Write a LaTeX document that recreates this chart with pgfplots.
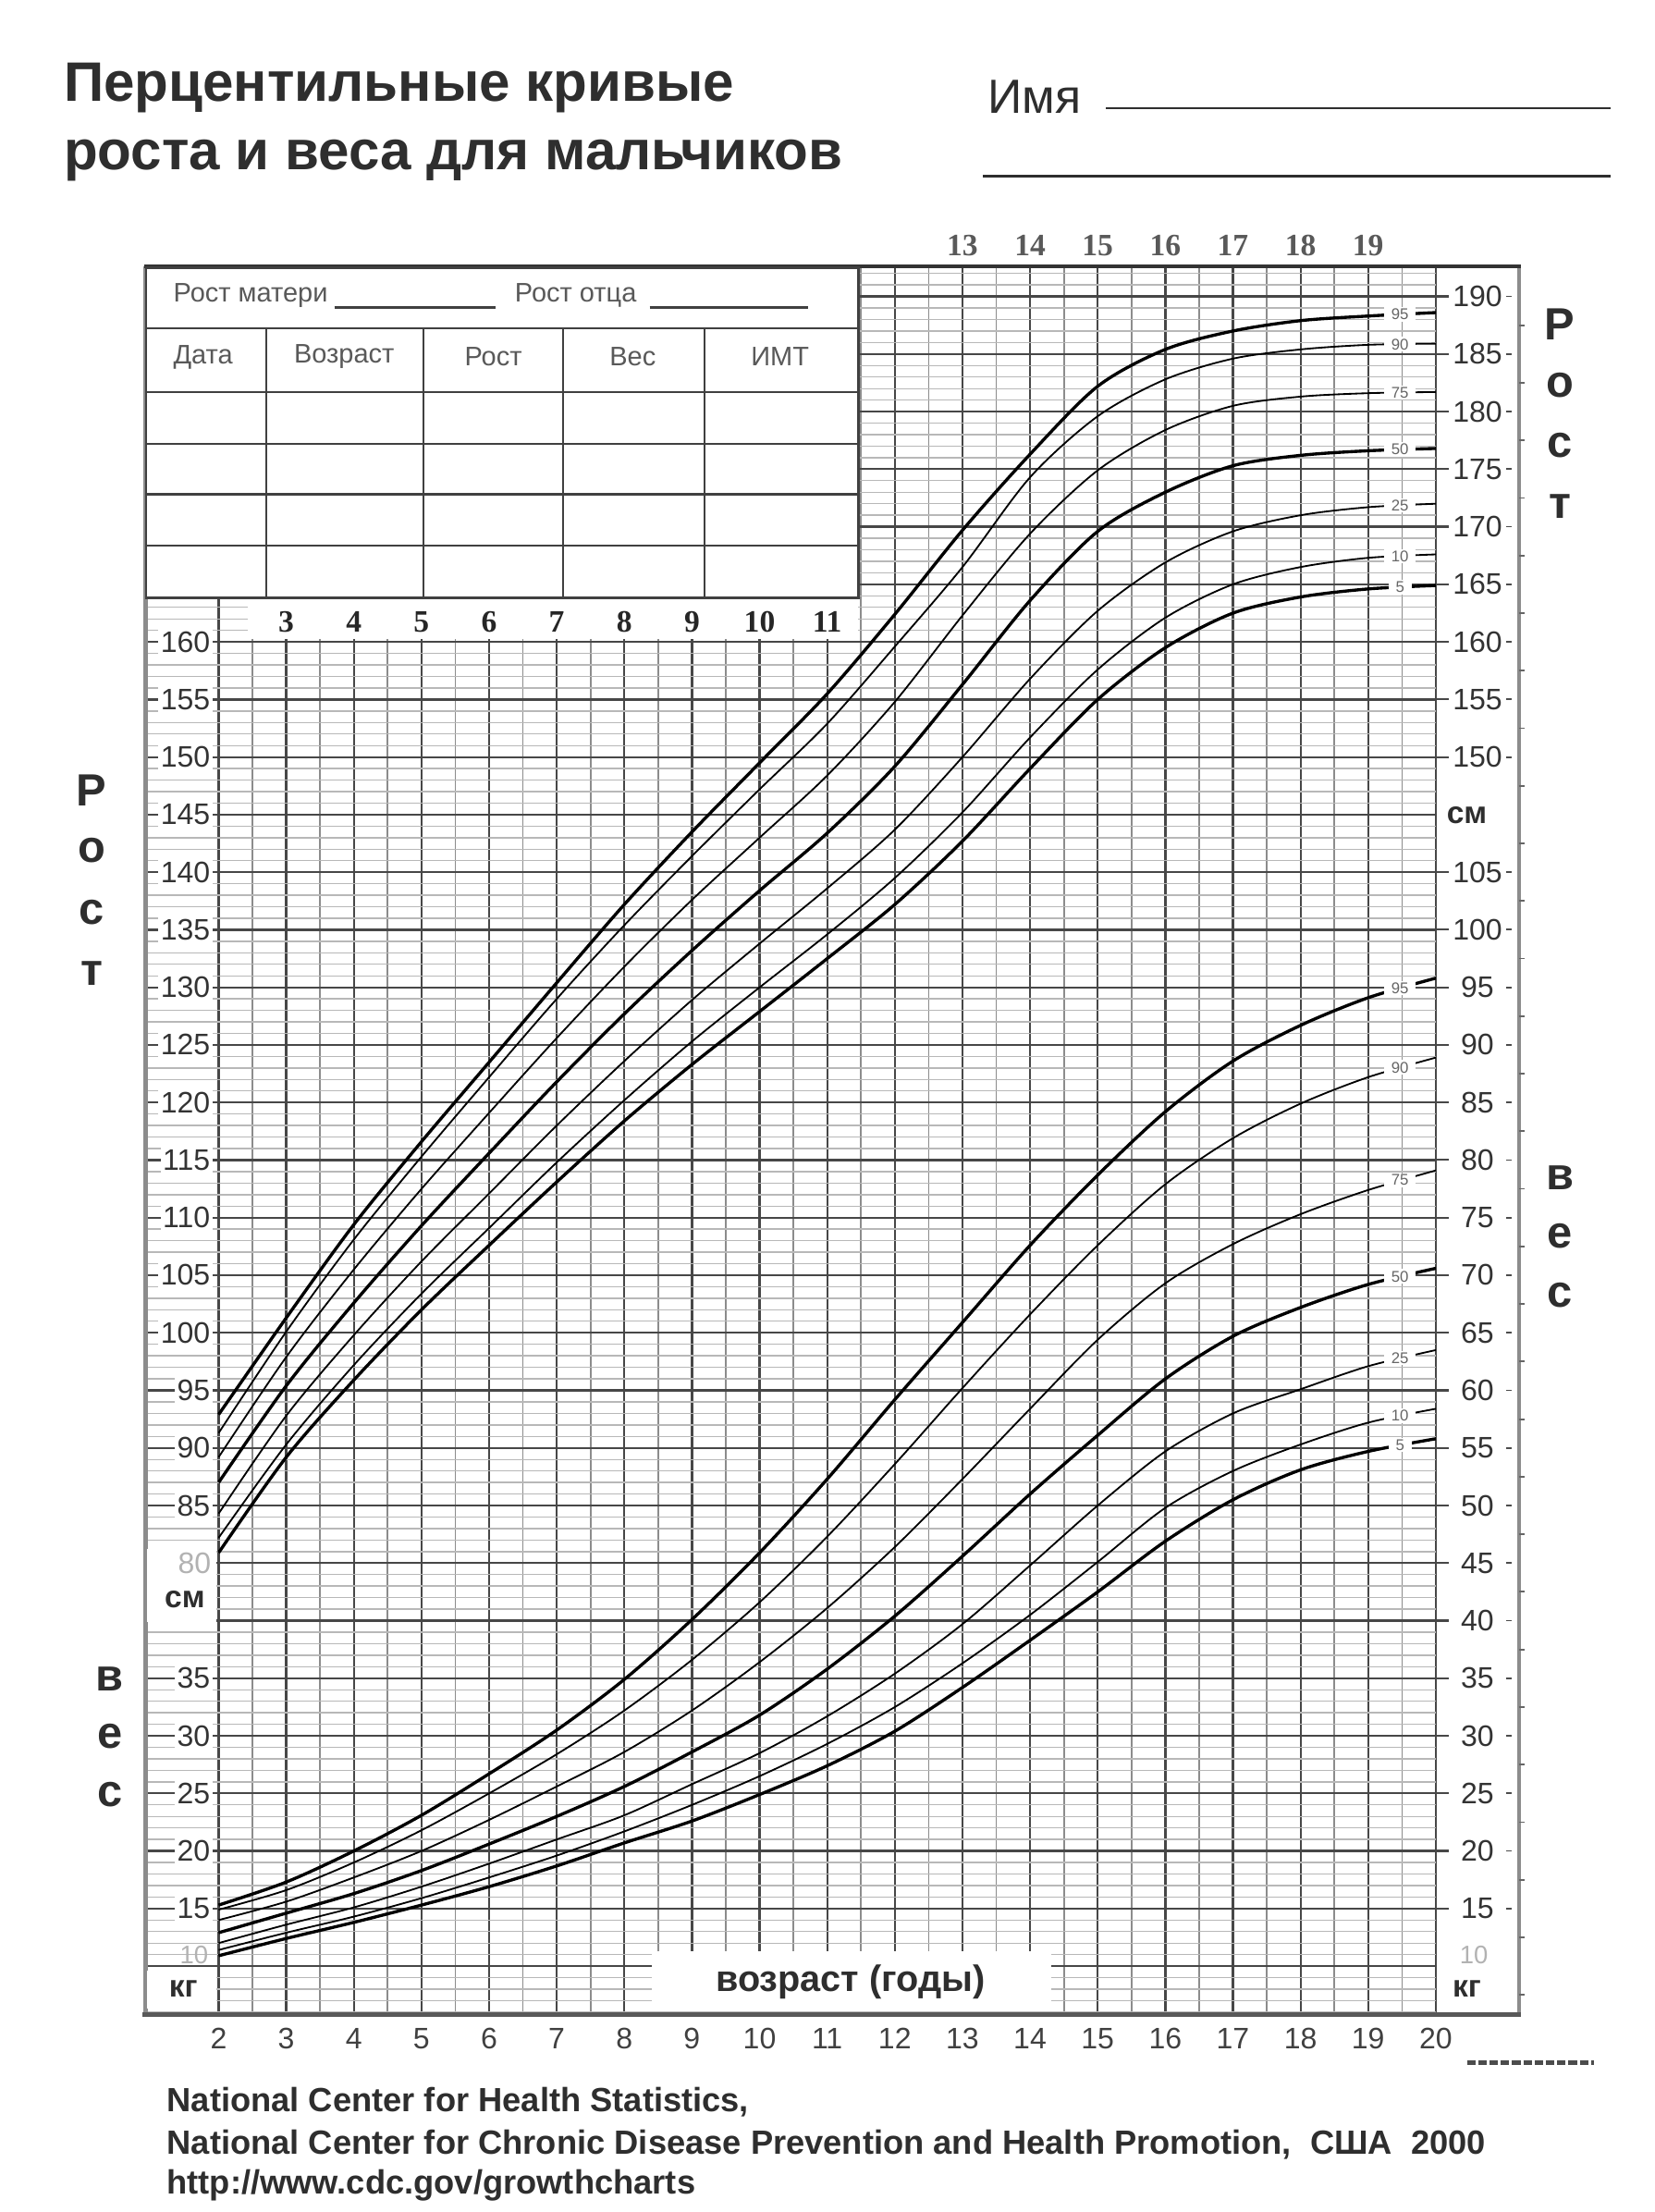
\documentclass[border=0pt]{standalone}
\usepackage{fontspec}
\setmainfont{Liberation Sans}
\newfontfamily\numserif{Liberation Serif}
\usepackage{pgfplots}
\usepackage{pgfplotstable}
\pgfplotsset{compat=1.18}
\definecolor{ink}{HTML}{2E2E2E}
\definecolor{gmaj}{HTML}{474747}
\definecolor{ghalf}{HTML}{8C8C8C}
\definecolor{gmin}{HTML}{B8B8B8}
\tikzset{
  thk/.style={black, line width=1.1pt, smooth},
  thn/.style={black, line width=0.6pt, smooth},
  plab/.style={font=\fontsize{5.5}{6}\selectfont, text=black!60, fill=white, inner xsep=2.6pt, inner ysep=0.6pt},
}

\begin{document}
% stature, cm
\pgfplotstableread{
age p5 p10 p25 p50 p75 p90 p95
2 80.9 82.2 84.3 87.0 89.2 91.3 92.9
3 89.2 90.3 92.8 95.4 97.9 100.1 101.3
4 95.9 97.2 99.8 102.6 105.5 108.1 109.4
5 102.0 103.4 106.2 109.3 112.5 115.3 116.6
6 107.6 109.1 112.1 115.6 119.1 122.2 123.5
7 113.1 114.8 118.0 121.8 125.6 129.0 130.4
8 118.4 120.2 123.6 127.7 131.8 135.4 137.2
9 123.3 125.3 128.9 133.2 137.6 141.4 143.5
10 127.9 130.0 133.8 138.4 143.0 147.2 149.5
11 132.5 134.6 138.6 143.4 148.4 152.9 155.5
12 137.2 139.5 143.7 149.2 154.8 159.6 162.4
13 142.7 145.2 150.0 156.3 162.3 166.5 169.7
14 149.0 151.7 156.8 163.6 169.4 174.3 176.3
15 155.0 157.6 162.7 169.6 174.9 179.6 182.2
16 159.5 162.1 166.9 173.0 178.4 182.8 185.4
17 162.5 165.0 169.6 175.3 180.5 184.6 187.0
18 163.9 166.5 171.0 176.2 181.3 185.4 187.9
19 164.6 167.3 171.7 176.6 181.6 185.8 188.3
20 164.9 167.6 172.0 176.8 181.7 185.9 188.6
}\stature
% weight, kg
\pgfplotstableread{
age p5 p10 p25 p50 p75 p90 p95
2 10.9 11.4 12.0 12.9 14.0 14.9 15.3
3 12.4 12.9 13.6 14.6 15.6 16.6 17.3
4 13.8 14.3 15.1 16.3 17.7 19.0 20.0
5 15.3 15.9 16.9 18.3 20.0 21.8 23.1
6 16.9 17.7 18.9 20.6 22.7 25.0 26.7
7 18.7 19.6 21.0 23.0 25.6 28.4 30.5
8 20.7 21.7 23.1 25.6 28.6 32.2 34.9
9 22.6 24.0 25.8 28.6 32.2 36.6 40.1
10 24.9 26.5 28.5 31.8 36.4 41.6 45.9
11 27.4 29.3 31.7 35.8 41.1 47.3 52.3
12 30.4 32.5 35.4 40.4 46.4 53.6 59.2
13 34.2 36.3 39.7 45.6 52.3 60.2 65.9
14 38.3 40.5 44.8 51.0 58.4 66.6 72.6
15 42.5 45.1 50.0 56.1 64.4 72.6 78.7
16 46.9 49.8 54.7 61.0 69.3 77.9 84.2
17 50.5 53.0 58.0 64.7 72.7 81.9 88.6
18 53.1 55.3 60.1 67.2 75.3 84.9 91.7
19 54.7 57.2 62.1 69.2 77.4 87.2 94.1
20 55.8 58.4 63.5 70.6 79.1 88.9 95.8
}\weighttab

\begin{tikzpicture}
\path[use as bounding box] (-51.5pt,-70.5pt) rectangle (535pt,713.5pt);
\begin{axis}[
    at={(0,0)}, anchor=south west,
    scale only axis, width=457.5pt, height=618.5pt,
    xmin=0.915, xmax=20, ymin=40.92, ymax=192.47,
    xtick={2,...,20}, minor xtick={2.5,3.5,...,19.5},
    ytick={45,50,...,190}, minor ytick={41,42,...,192},
    xticklabels={}, yticklabels={},
    major tick length=0pt, minor tick length=0pt,
    axis line style={draw=none},
    grid=both,
    major x grid style={gmaj, line width=0.75pt},
    minor x grid style={ghalf, line width=0.55pt},
    major y grid style={gmaj, line width=0.75pt},
    minor y grid style={gmin, line width=0.45pt},
]
\addplot[thk] table[x=age, y=p95] {\stature};
\addplot[thn] table[x=age, y=p90] {\stature};
\addplot[thn] table[x=age, y=p75] {\stature};
\addplot[thk] table[x=age, y=p50] {\stature};
\addplot[thn] table[x=age, y=p25] {\stature};
\addplot[thn] table[x=age, y=p10] {\stature};
\addplot[thk] table[x=age, y=p5] {\stature};

\addplot[thk] table[x=age, y expr=\thisrow{p95}+35] {\weighttab};
\addplot[thn] table[x=age, y expr=\thisrow{p90}+35] {\weighttab};
\addplot[thn] table[x=age, y expr=\thisrow{p75}+35] {\weighttab};
\addplot[thk] table[x=age, y expr=\thisrow{p50}+35] {\weighttab};
\addplot[thn] table[x=age, y expr=\thisrow{p25}+35] {\weighttab};
\addplot[thn] table[x=age, y expr=\thisrow{p10}+35] {\weighttab};
\addplot[thk] table[x=age, y expr=\thisrow{p5}+35] {\weighttab};

\node[plab] at (axis cs:19.47,188.45) {95};
\node[plab] at (axis cs:19.47,185.85) {90};
\node[plab] at (axis cs:19.47,181.65) {75};
\node[plab] at (axis cs:19.47,176.7) {50};
\node[plab] at (axis cs:19.47,171.85) {25};
\node[plab] at (axis cs:19.47,167.45) {10};
\node[plab] at (axis cs:19.47,164.75) {5};
\node[plab] at (axis cs:19.47,129.95) {95};
\node[plab] at (axis cs:19.47,123.05) {90};
\node[plab] at (axis cs:19.47,113.25) {75};
\node[plab] at (axis cs:19.47,104.9) {50};
\node[plab] at (axis cs:19.47,97.8) {25};
\node[plab] at (axis cs:19.47,92.8) {10};
\node[plab] at (axis cs:19.47,90.25) {5};
\end{axis}

% page layout in pixels of the reference (1173 x 1568)
\begin{scope}[shift={(-51.5pt,713.5pt)}, x=0.5pt, y=-0.5pt]
  % title and name
  \node[anchor=base west, inner sep=0pt, text=ink, font=\fontsize{19.7}{23}\selectfont\bfseries] at (45,72) {Перцентильные кривые};
  \node[anchor=base west, inner sep=0pt, text=ink, font=\fontsize{19.7}{23}\selectfont\bfseries] at (45,120) {роста и веса для мальчиков};
  \node[anchor=base west, inner sep=0pt, text=ink, font=\fontsize{17}{20}\selectfont] at (700,80.5) {Имя};
  \draw[line width=0.9pt, ink] (784,76.7) -- (1142,76.7);
  \draw[line width=0.9pt, ink] (697,125) -- (1142,125);

  % frame
  \draw[line width=1.6pt, black!45] (103,189) -- (103,1428);
  \draw[line width=1.6pt, black!45] (1077,189) -- (1077,1428);
  \draw[line width=1.3pt, black!80] (102,189) -- (1078,189);
  \draw[line width=1.8pt, black!65] (101,1428) -- (1078,1428);
  \foreach \v in {187.5,182.5,...,42.5} \draw[line width=0.6pt, black!60] (1077,{455+(160-\v)*8.1625}) -- (1081,{455+(160-\v)*8.1625});

  % ages above the frame
  \foreach \a in {13,...,19}
    \node[text=black!65, font=\fontsize{11}{12}\selectfont\numserif\bfseries] at ({155+(\a-2)*47.94},174) {\a};
  % ages below the frame
  \foreach \a in {2,...,20}
    \node[text=black!75, font=\fontsize{10.5}{12}\selectfont] at ({155+(\a-2)*47.94},1445) {\a};

  % record table
  \fill[white] (103.6,189.8) rectangle (608.6,423.8);
  \draw[line width=0.75pt, black!75] (103.6,189.8) rectangle (608.6,423.8);
  \foreach \r in {232.7,278,314.7,350.3,387} \draw[line width=0.75pt, black!75] (103.6,\r) -- (608.6,\r);
  \foreach \c in {189,300.4,399.2,499.3} \draw[line width=0.75pt, black!75] (\c,232.7) -- (\c,423.8);
  \begin{scope}[every node/.style={text=black!65, font=\fontsize{9.5}{11}\selectfont}]
    \node[anchor=west] at (116,209.3) {Рост матери};
    \node[anchor=west] at (358,209.3) {Рост отца};
    \node at (144,253) {Дата};
    \node at (244,253) {Возраст};
    \node at (349.8,253) {Рост};
    \node at (448.6,253) {Вес};
    \node at (553,253) {ИМТ};
  \end{scope}
  \draw[line width=0.7pt, black!75] (237,218) -- (351.6,218);
  \draw[line width=0.7pt, black!75] (460.5,218) -- (573,218);

  % age strip under the table
  \fill[white] (176,424.5) rectangle (608,453);
  \foreach \a in {3,...,11}
    \node[text=black!85, font=\fontsize{11}{12}\selectfont\numserif\bfseries] at ({155+(\a-2)*47.94},441) {\a};

  % left scale
  \begin{scope}[every node/.style={text=black!80, font=\fontsize{10.5}{12}\selectfont, fill=white, inner sep=0.8pt}]
    \foreach \h in {85,90,...,160}
      \node[anchor=east] at (151,{455+(160-\h)*8.1625}) {\h};
    \foreach \w in {15,20,...,35}
      \node[anchor=east] at (151,{455+(125-\w)*8.1625}) {\w};
  \end{scope}
  \fill[white] (104.5,1098) rectangle (153.5,1150);
  \fill[white] (104.5,1397) rectangle (153.5,1424);
  \node[anchor=east, inner sep=0pt, text=black!30, font=\fontsize{10.5}{12}\selectfont] at (150,1108) {80};
  \node[text=ink, inner sep=0pt, font=\fontsize{11}{12}\selectfont\bfseries] at (131,1134) {см};
  \node[anchor=east, inner sep=0pt, text=black!30, font=\fontsize{9}{10}\selectfont] at (148,1386) {10};
  \node[text=ink, inner sep=0pt, font=\fontsize{11}{12}\selectfont\bfseries] at (130,1410) {кг};

  % right scale
  \begin{scope}[every node/.style={text=black!80, font=\fontsize{10.5}{12}\selectfont}]
    \foreach \h in {150,155,...,190} {
      \node at (1047.5,{455+(160-\h)*8.1625}) {\h};
      \draw[line width=0.7pt, gmaj] (1018,{455+(160-\h)*8.1625}) -- (1027,{455+(160-\h)*8.1625});
      \draw[line width=0.6pt, black!70] (1067.5,{455+(160-\h)*8.1625}) -- (1072,{455+(160-\h)*8.1625});
    }
    \foreach \w in {15,20,...,105} {
      \node at (1047.5,{455+(125-\w)*8.1625}) {\w};
      \draw[line width=0.7pt, gmaj] (1018,{455+(125-\w)*8.1625}) -- (1027,{455+(125-\w)*8.1625});
      \draw[line width=0.6pt, black!70] (1067.5,{455+(125-\w)*8.1625}) -- (1072,{455+(125-\w)*8.1625});
    }
  \end{scope}
  \node[text=ink, font=\fontsize{11}{12}\selectfont\bfseries] at (1040,578) {см};
  \node[inner sep=0pt, text=black!30, font=\fontsize{9}{10}\selectfont] at (1045,1386) {10};
  \node[inner sep=0pt, text=ink, font=\fontsize{11}{12}\selectfont\bfseries] at (1040,1410) {кг};

  % side words
  \begin{scope}[every node/.style={text=ink, font=\fontsize{16}{18}\selectfont\bfseries}]
    \node at (65,560) {Р}; \node at (65,603) {о}; \node at (65,647) {с}; \node at (65,690) {т};
    \node at (78,1190) {в}; \node at (78,1231) {е}; \node at (78,1272) {с};
    \node at (1106,230) {Р}; \node at (1106,273) {о}; \node at (1106,316) {с}; \node at (1106,359) {т};
    \node at (1106,835) {в}; \node at (1106,876) {е}; \node at (1106,918) {с};
  \end{scope}

  % age caption
  \fill[white] (462,1383) rectangle (745,1426);
  \node[text=ink, font=\fontsize{13}{15}\selectfont\bfseries] at (603,1405) {возраст (годы)};

  % footer
  \draw[line width=1.6pt, black!70, dash pattern=on 3pt off 1pt] (1040,1462) -- (1130,1462);
  \begin{scope}[every node/.style={anchor=base west, inner sep=0pt, text=ink, font=\fontsize{11.9}{14}\selectfont\bfseries}]
    \node at (118,1497) {National Center for Health Statistics,};
    \node at (118,1527) {National Center for Chronic Disease Prevention and Health Promotion,\ \ США\ \ 2000};
    \node at (118,1555) {http://www.cdc.gov/growthcharts};
  \end{scope}
\end{scope}
\end{tikzpicture}
\end{document}
